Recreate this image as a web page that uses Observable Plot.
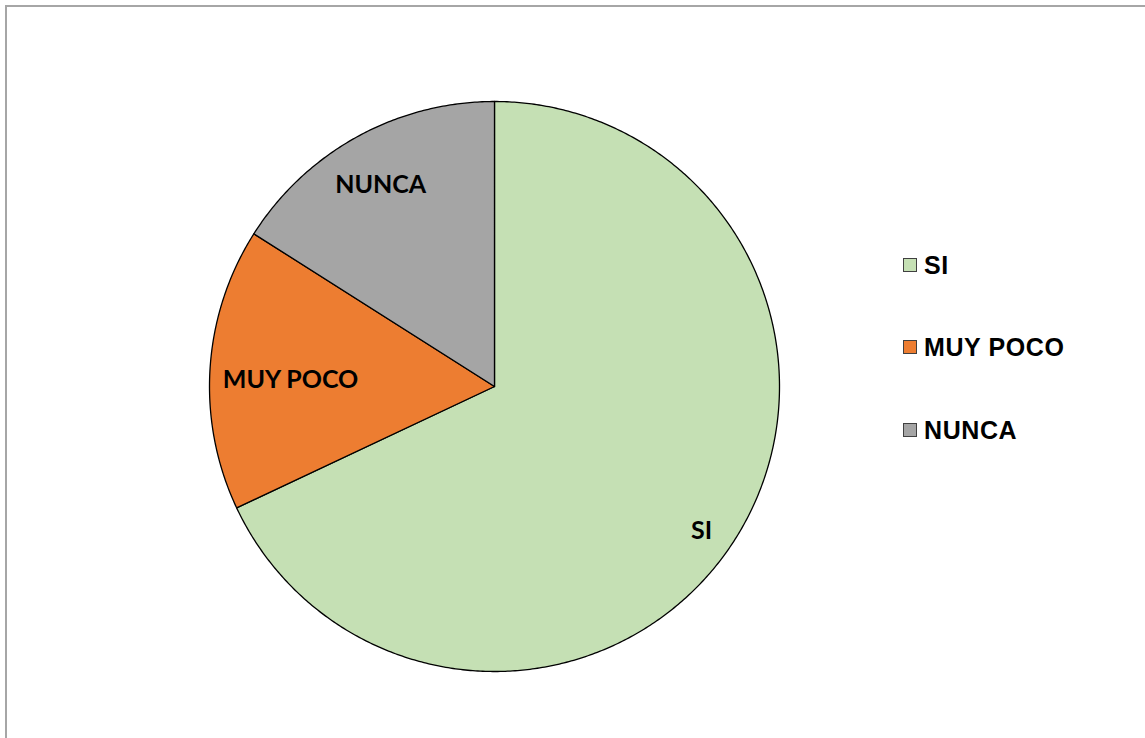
<!DOCTYPE html>
<html><head><meta charset="utf-8">
<script src="https://cdn.jsdelivr.net/npm/d3@7"></script>
<script src="https://cdn.jsdelivr.net/npm/@observablehq/plot@0.6"></script>
<style>
html,body{margin:0;padding:0;background:#fff;overflow:hidden;width:1145px;height:738px;}
#frame{position:absolute;left:5px;top:5px;width:1160px;height:760px;border-left:2px solid #a6a6a6;border-top:2px solid #a6a6a6;box-sizing:border-box;}
#chart{position:absolute;left:0;top:0;}
#legend{position:absolute;left:0;top:0;font-family:"Liberation Sans",Arial,sans-serif;font-weight:bold;font-size:25px;color:#000;letter-spacing:0.6px;}
.item{position:absolute;left:903px;display:flex;align-items:center;height:30px;white-space:nowrap;}
.sw{width:12px;height:12px;border:1px solid #404040;margin-right:7px;flex:none;}
</style></head><body>
<div id="frame"></div><div id="chart"></div><div id="legend"></div>
<script>
// ---- data ----
const categories = ["SI", "MUY POCO", "NUNCA"];
const values = [68, 16, 16];
const colors = ["#C5E0B4", "#ED7D31", "#A5A5A5"];

// ---- layout (styling, not data) ----
const W = 1145, H = 738;
const cx = 494, cy = 386, R = 285;
// label placement: [angle in degrees clockwise from 12 o'clock, radius fraction]
const labelPlace = {"SI": [125, 0.887], "MUY POCO": [271.7, 0.716], "NUNCA": [330.5, 0.811]};
const legendY = [265, 347, 430];

const arcs = d3.pie().sort(null).value((d, i) => values[i])(categories);
const pts = [];
arcs.forEach(a => {
  const key = a.data;
  pts.push({key, x: 0, y: 0});
  const n = Math.max(2, Math.ceil((a.endAngle - a.startAngle) / (Math.PI / 360)));
  for (let i = 0; i <= n; i++) {
    const t = a.startAngle + (a.endAngle - a.startAngle) * i / n;
    pts.push({key, x: Math.sin(t), y: Math.cos(t)});
  }
  pts.push({key, x: 0, y: 0});
});
const labels = categories.map(c => {
  const [deg, rf] = labelPlace[c];
  const t = deg * Math.PI / 180;
  return {key: c, x: rf * Math.sin(t), y: rf * Math.cos(t)};
});

const chart = Plot.plot({
  width: W, height: H,
  margin: 0,
  x: {domain: [-cx / R, (W - cx) / R], range: [0, W], axis: null},
  y: {domain: [cy / R, -(H - cy) / R], range: [0, H], axis: null},
  color: {domain: categories, range: colors},
  style: {background: "transparent", overflow: "visible"},
  marks: [
    Plot.line(pts, {x: "x", y: "y", z: "key", fill: "key", stroke: "#000", strokeWidth: 1.3, strokeLinejoin: "round", curve: "linear"}),
    Plot.text(labels, {x: "x", y: "y", text: "key", fill: "#000", fontSize: 25, fontWeight: "bold", fontFamily: "Lato, 'Open Sans', sans-serif"})
  ]
});
document.getElementById("chart").appendChild(chart);

const leg = document.getElementById("legend");
categories.forEach((c, i) => {
  const item = document.createElement("div");
  item.className = "item";
  item.style.top = (legendY[i] - 15) + "px";
  const sw = document.createElement("div");
  sw.className = "sw";
  sw.style.background = colors[i];
  const tx = document.createElement("span");
  tx.textContent = c;
  item.appendChild(sw); item.appendChild(tx);
  leg.appendChild(item);
});
</script>
</body></html>
